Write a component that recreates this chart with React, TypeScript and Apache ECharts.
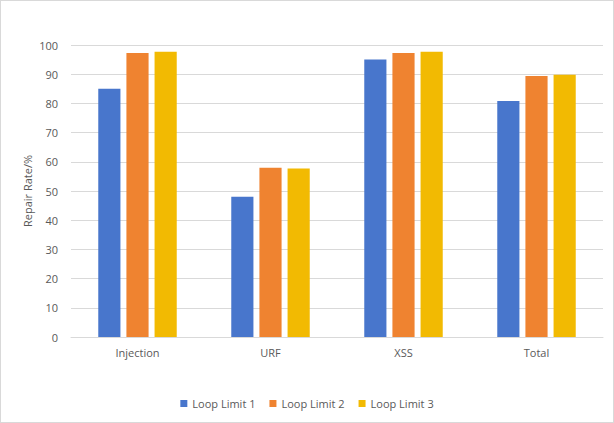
import React, { useEffect, useRef } from "react";
import * as echarts from "echarts";

const categories = ["Injection", "URF", "XSS", "Total"];
const seriesNames = ["Loop Limit 1", "Loop Limit 2", "Loop Limit 3"];
const loopLimit1 = [85, 48, 95, 80.8];
const loopLimit2 = [97.3, 58, 97.3, 89.4];
const loopLimit3 = [97.7, 57.7, 97.7, 89.8];
const colors = ["#4876CC", "#EF8330", "#F2BA02"];

export default function App() {
  const ref = useRef<HTMLDivElement>(null);
  useEffect(() => {
    document.body.style.margin = "0";
    const chart = echarts.init(ref.current!, null, { renderer: "svg" });
    const font = "Open Sans, Liberation Sans, sans-serif";
    const data = [loopLimit1, loopLimit2, loopLimit3];
    chart.setOption({
      animation: false,
      color: colors,
      textStyle: { fontFamily: font },
      grid: { left: 70, right: 10, top: 44, bottom: 85, containLabel: false },
      legend: {
        bottom: 8,
        left: "center",
        itemWidth: 7,
        itemHeight: 7,
        itemGap: 14,
        icon: "rect",
        textStyle: { color: "#595959", fontSize: 11, fontFamily: font },
        data: seriesNames,
      },
      xAxis: {
        type: "category",
        data: categories,
        axisLine: { lineStyle: { color: "#d9d9d9" } },
        axisTick: { show: false },
        axisLabel: { color: "#595959", fontSize: 11, margin: 10, fontFamily: font },
      },
      yAxis: {
        type: "value",
        min: 0,
        max: 100,
        interval: 10,
        name: "Repair Rate/%",
        nameLocation: "middle",
        nameGap: 38,
        nameMoveOverlap: false,
        nameRotate: 90,
        nameTextStyle: { color: "#595959", fontSize: 11, fontFamily: font },
        axisLine: { show: false },
        axisTick: { show: false },
        axisLabel: { color: "#595959", fontSize: 11, margin: 13, fontFamily: font },
        splitLine: { lineStyle: { color: "#d9d9d9" } },
      },
      series: seriesNames.map((n, i) => ({
        name: n,
        type: "bar",
        data: data[i],
        barGap: "27%",
        barCategoryGap: "41%",
      })),
    });
    return () => chart.dispose();
  }, []);
  return (
    <div
      ref={ref}
      style={{
        width: 614,
        height: 423,
        boxSizing: "border-box",
        border: "1px solid #d9d9d9",
        background: "#fff",
      }}
    />
  );
}
